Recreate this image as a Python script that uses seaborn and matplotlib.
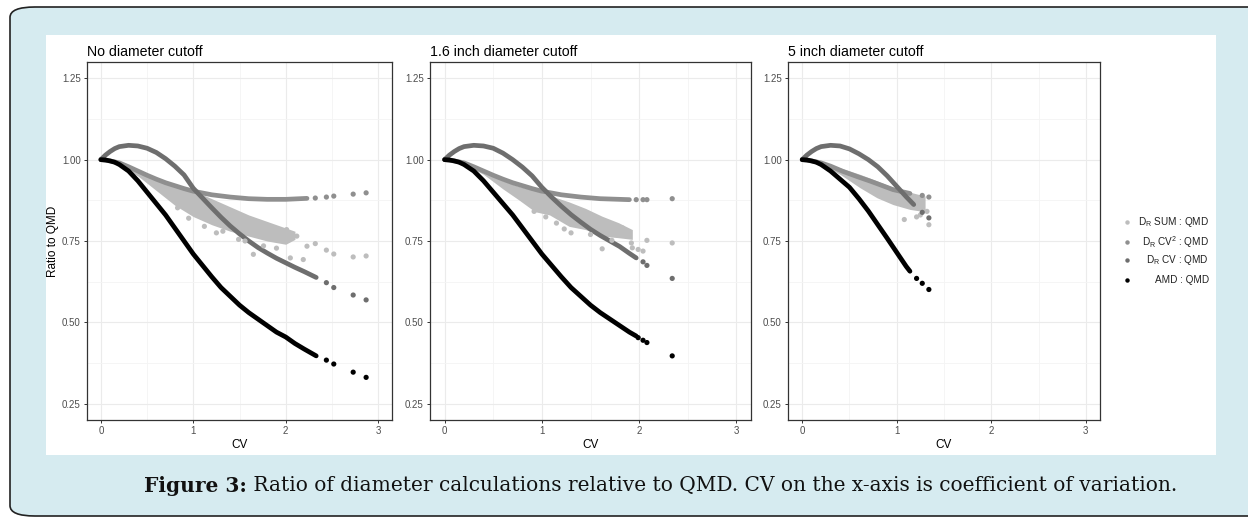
import numpy as np
import pandas as pd
import seaborn as sns
import matplotlib.pyplot as plt
from matplotlib.patches import FancyBboxPatch, Rectangle
from matplotlib.lines import Line2D

# ---- data ----
titles = ['No diameter cutoff', '1.6 inch diameter cutoff', '5 inch diameter cutoff']

# panel 1: no cutoff
p1_amd_cv = [0, 0.05, 0.1, 0.15, 0.2, 0.3, 0.4, 0.5, 0.6, 0.7, 0.8, 0.9, 1.0, 1.1, 1.2, 1.3, 1.4, 1.5, 1.6, 1.7, 1.8, 1.9, 2.0, 2.1, 2.2, 2.33]
p1_amd = [1.0, 0.999, 0.996, 0.992, 0.985, 0.965, 0.935, 0.9, 0.865, 0.83, 0.79, 0.75, 0.71, 0.675, 0.64, 0.607, 0.58, 0.553,
          0.53, 0.51, 0.49, 0.47, 0.455, 0.435, 0.418, 0.397]
p1_amd_tail_cv = [2.44, 2.52, 2.73, 2.87]
p1_amd_tail = [0.384, 0.372, 0.347, 0.331]
p1_cv_cv = [0, 0.05, 0.1, 0.15, 0.2, 0.3, 0.4, 0.5, 0.6, 0.7, 0.8, 0.9, 1.0, 1.1, 1.2, 1.3, 1.4, 1.5, 1.6, 1.7, 1.8, 1.9, 2.0, 2.1, 2.2, 2.33]
p1_cv = [1.0, 1.014, 1.025, 1.034, 1.04, 1.044, 1.042, 1.035, 1.022, 1.003, 0.98, 0.953, 0.912, 0.882, 0.852, 0.823, 0.796,
         0.772, 0.75, 0.73, 0.713, 0.697, 0.683, 0.669, 0.656, 0.638]
p1_cv_tail_cv = [2.44, 2.52, 2.73, 2.87]
p1_cv_tail = [0.622, 0.607, 0.584, 0.569]
p1_cv2_cv = [0, 0.1, 0.2, 0.3, 0.4, 0.5, 0.6, 0.7, 0.8, 0.9, 1.0, 1.2, 1.4, 1.6, 1.8, 2.0, 2.23]
p1_cv2 = [1.0, 0.996, 0.99, 0.978, 0.965, 0.952, 0.94, 0.929, 0.92, 0.911, 0.903, 0.892, 0.885, 0.88, 0.878, 0.878, 0.881]
p1_cv2_tail_cv = [2.32, 2.44, 2.52, 2.73, 2.87]
p1_cv2_tail = [0.882, 0.885, 0.888, 0.894, 0.898]
p1_sum_cv = [0, 0.2, 0.4, 0.6, 0.8, 1.0, 1.2, 1.4, 1.6, 1.8, 2.0, 2.1]
p1_sum_hi = [1.0, 0.99, 0.97, 0.945, 0.925, 0.905, 0.88, 0.855, 0.83, 0.81, 0.79, 0.78]
p1_sum_lo = [1.0, 0.982, 0.95, 0.905, 0.86, 0.825, 0.8, 0.78, 0.765, 0.75, 0.74, 0.755]
p1_sum_pts_cv = [0.83, 0.95, 1.12, 1.25, 1.32, 1.49, 1.56, 1.65, 1.76, 1.9, 2.01, 2.05, 2.12, 2.19, 2.23, 2.32, 2.44, 2.52, 2.73, 2.87]
p1_sum_pts = [0.852, 0.82, 0.795, 0.775, 0.78, 0.755, 0.75, 0.709, 0.735, 0.728, 0.785, 0.698, 0.765, 0.693, 0.734, 0.742,
              0.722, 0.71, 0.701, 0.704]

# panel 2: 1.6 inch cutoff
p2_amd_cv = [0, 0.05, 0.1, 0.15, 0.2, 0.3, 0.4, 0.5, 0.6, 0.7, 0.8, 0.9, 1.0, 1.1, 1.2, 1.3, 1.4, 1.5, 1.6, 1.7, 1.8, 1.9, 1.97]
p2_amd = [1.0, 0.999, 0.996, 0.992, 0.985, 0.965, 0.935, 0.9, 0.865, 0.83, 0.79, 0.75, 0.71, 0.675, 0.64, 0.607, 0.58, 0.553,
          0.53, 0.51, 0.49, 0.47, 0.458]
p2_amd_tail_cv = [1.99, 2.04, 2.08, 2.34]
p2_amd_tail = [0.453, 0.445, 0.438, 0.397]
p2_cv_cv = [0, 0.05, 0.1, 0.15, 0.2, 0.3, 0.4, 0.5, 0.6, 0.7, 0.8, 0.9, 1.0, 1.1, 1.2, 1.3, 1.4, 1.5, 1.6, 1.7, 1.8, 1.9, 1.97]
p2_cv = [1.0, 1.014, 1.025, 1.034, 1.04, 1.044, 1.042, 1.035, 1.02, 1.0, 0.977, 0.95, 0.915, 0.885, 0.857, 0.831, 0.808,
         0.786, 0.767, 0.75, 0.733, 0.712, 0.698]
p2_cv_tail_cv = [2.04, 2.08, 2.34]
p2_cv_tail = [0.686, 0.675, 0.635]
p2_cv2_cv = [0, 0.1, 0.2, 0.3, 0.4, 0.5, 0.6, 0.7, 0.8, 0.9, 1.0, 1.2, 1.4, 1.6, 1.8, 1.9]
p2_cv2 = [1.0, 0.996, 0.99, 0.978, 0.965, 0.952, 0.94, 0.929, 0.92, 0.911, 0.903, 0.892, 0.885, 0.88, 0.878, 0.877]
p2_cv2_tail_cv = [1.97, 2.04, 2.08, 2.34]
p2_cv2_tail = [0.877, 0.877, 0.877, 0.88]
p2_sum_cv = [0, 0.2, 0.4, 0.6, 0.76, 0.93, 1.08, 1.28, 1.45, 1.62, 1.79, 1.93]
p2_sum_hi = [1.0, 0.99, 0.965, 0.935, 0.918, 0.905, 0.89, 0.87, 0.85, 0.826, 0.806, 0.785]
p2_sum_lo = [1.0, 0.985, 0.955, 0.91, 0.877, 0.84, 0.83, 0.795, 0.785, 0.765, 0.76, 0.755]
p2_sum_pts_cv = [0.92, 1.04, 1.15, 1.23, 1.3, 1.5, 1.62, 1.72, 1.83, 1.92, 1.93, 1.99, 2.04, 2.08, 2.34]
p2_sum_pts = [0.841, 0.824, 0.805, 0.787, 0.775, 0.77, 0.726, 0.752, 0.79, 0.744, 0.729, 0.724, 0.719, 0.752, 0.744]

# panel 3: 5 inch cutoff
p3_amd_cv = [0, 0.05, 0.1, 0.15, 0.2, 0.3, 0.4, 0.5, 0.6, 0.7, 0.8, 0.9, 1.0, 1.1, 1.14]
p3_amd = [1.0, 0.999, 0.996, 0.992, 0.985, 0.965, 0.94, 0.915, 0.88, 0.842, 0.8, 0.758, 0.715, 0.672, 0.657]
p3_amd_tail_cv = [1.21, 1.27, 1.34]
p3_amd_tail = [0.635, 0.62, 0.601]
p3_cv_cv = [0, 0.05, 0.1, 0.15, 0.2, 0.3, 0.4, 0.5, 0.6, 0.7, 0.8, 0.9, 1.0, 1.1, 1.18]
p3_cv = [1.0, 1.014, 1.025, 1.034, 1.04, 1.044, 1.042, 1.033, 1.018, 1.0, 0.978, 0.95, 0.918, 0.886, 0.862]
p3_cv_tail_cv = [1.27, 1.34]
p3_cv_tail = [0.838, 0.821]
p3_cv2_cv = [0, 0.1, 0.2, 0.3, 0.43, 0.6, 0.72, 0.85, 0.96, 1.14]
p3_cv2 = [1.0, 0.996, 0.99, 0.98, 0.964, 0.946, 0.934, 0.92, 0.908, 0.896]
p3_cv2_tail_cv = [1.27, 1.34]
p3_cv2_tail = [0.89, 0.885]
p3_sum_cv = [0, 0.2, 0.4, 0.61, 0.79, 0.96, 1.14, 1.3]
p3_sum_hi = [1.0, 0.99, 0.975, 0.955, 0.935, 0.915, 0.9, 0.888]
p3_sum_lo = [1.0, 0.985, 0.955, 0.914, 0.883, 0.862, 0.847, 0.84]
p3_sum_pts_cv = [1.08, 1.21, 1.25, 1.32, 1.34]
p3_sum_pts = [0.816, 0.824, 0.83, 0.841, 0.8]

legend_labels = [r'D$_\mathregular{R}$ SUM : QMD', r'D$_\mathregular{R}$ CV$^\mathregular{2}$ : QMD',
                 r'D$_\mathregular{R}$ CV : QMD', 'AMD : QMD']
c_sum, c_cv2, c_cv, c_amd = '#bdbdbd', '#8f8f8f', '#6e6e6e', '#000000'

panels = [
    dict(amd=(p1_amd_cv, p1_amd), amd_t=(p1_amd_tail_cv, p1_amd_tail), cv=(p1_cv_cv, p1_cv), cv_t=(p1_cv_tail_cv, p1_cv_tail),
         cv2=(p1_cv2_cv, p1_cv2), cv2_t=(p1_cv2_tail_cv, p1_cv2_tail), band=(p1_sum_cv, p1_sum_lo, p1_sum_hi), sum_t=(p1_sum_pts_cv, p1_sum_pts)),
    dict(amd=(p2_amd_cv, p2_amd), amd_t=(p2_amd_tail_cv, p2_amd_tail), cv=(p2_cv_cv, p2_cv), cv_t=(p2_cv_tail_cv, p2_cv_tail),
         cv2=(p2_cv2_cv, p2_cv2), cv2_t=(p2_cv2_tail_cv, p2_cv2_tail), band=(p2_sum_cv, p2_sum_lo, p2_sum_hi), sum_t=(p2_sum_pts_cv, p2_sum_pts)),
    dict(amd=(p3_amd_cv, p3_amd), amd_t=(p3_amd_tail_cv, p3_amd_tail), cv=(p3_cv_cv, p3_cv), cv_t=(p3_cv_tail_cv, p3_cv_tail),
         cv2=(p3_cv2_cv, p3_cv2), cv2_t=(p3_cv2_tail_cv, p3_cv2_tail), band=(p3_sum_cv, p3_sum_lo, p3_sum_hi), sum_t=(p3_sum_pts_cv, p3_sum_pts)),
]

sns.set_style('white')
plt.rcParams['font.family'] = ['Liberation Sans', 'DejaVu Sans']
plt.rcParams['mathtext.fontset'] = 'custom'
plt.rcParams['mathtext.rm'] = 'Liberation Sans'
plt.rcParams['mathtext.it'] = 'Liberation Sans'

W, H = 1248, 519
fig = plt.figure(figsize=(W / 100, H / 100), dpi=100, facecolor='white')

# page background: rounded light-blue box with white plot area (behind the axes)
fig.patches.append(FancyBboxPatch((10 / W, 1 - 516 / H), 1.02, 509 / H, boxstyle='round,pad=0,rounding_size=0.02',
                                  transform=fig.transFigure, facecolor='#d6ebf0', edgecolor='#222222', lw=1.2,
                                  zorder=-3))
fig.patches.append(Rectangle((46 / W, 1 - 455 / H), 1170 / W, 420 / H, transform=fig.transFigure,
                             facecolor='white', edgecolor='none', zorder=-2))

frames = [(87, 392), (430, 751), (788, 1100)]
top, bottom = 62, 420


def line(ax, xy, color):
    d = pd.DataFrame({'cv': xy[0], 'r': xy[1]})
    sns.lineplot(data=d, x='cv', y='r', color=color, lw=3.4, ax=ax, sort=False, solid_capstyle='round',
                 solid_joinstyle='round')


def dots(ax, xy, color):
    d = pd.DataFrame({'cv': xy[0], 'r': xy[1]})
    sns.scatterplot(data=d, x='cv', y='r', color=color, s=14, edgecolor='none', ax=ax, zorder=3)


for i, (p, (x0, x1)) in enumerate(zip(panels, frames)):
    ax = fig.add_axes([x0 / W, 1 - bottom / H, (x1 - x0) / W, (bottom - top) / H])
    ax.set_facecolor('white')
    ax.set_xlim(-0.15, 3.15)
    ax.set_ylim(0.2, 1.3)
    ax.set_xticks([0, 1, 2, 3])
    ax.set_xticks([0.5, 1.5, 2.5], minor=True)
    ax.set_yticks([0.25, 0.5, 0.75, 1.0, 1.25])
    ax.set_yticks([0.375, 0.625, 0.875, 1.125], minor=True)
    ax.set_yticklabels(['0.25', '0.50', '0.75', '1.00', '1.25'])
    ax.grid(which='major', color='#ebebeb', lw=0.8)
    ax.grid(which='minor', color='#f4f4f4', lw=0.6)
    ax.set_axisbelow(True)
    for s in ax.spines.values():
        s.set_color('#333333')
        s.set_linewidth(0.9)
    ax.tick_params(which='major', length=2.5, width=0.7, color='#333333', labelsize=7,
                   labelcolor='#4d4d4d', pad=2, left=True, bottom=True)
    ax.tick_params(which='minor', length=0)

    cvs, lo, hi = p['band']
    ax.fill_between(cvs, lo, hi, color=c_sum, lw=0, zorder=2)
    dots(ax, p['sum_t'], c_sum)
    line(ax, p['cv2'], c_cv2)
    dots(ax, p['cv2_t'], c_cv2)
    line(ax, p['cv'], c_cv)
    dots(ax, p['cv_t'], c_cv)
    line(ax, p['amd'], c_amd)
    dots(ax, p['amd_t'], c_amd)

    ax.set_xlabel('CV', fontsize=8.5, color='black', labelpad=2)
    ax.set_ylabel('Ratio to QMD' if i == 0 else '', fontsize=8.5, color='black', labelpad=2)
    ax.set_title(titles[i], loc='left', fontsize=10.2, color='black', pad=4)

# legend (right-aligned labels as in the source)
leg_y = [222, 242, 260, 280]
for lab, col, y in zip(legend_labels, [c_sum, c_cv2, c_cv, c_amd], leg_y):
    fig.add_artist(Line2D([1127 / W], [1 - y / H], marker='o', ms=3.2, color=col, mec='none', ls='none',
                          transform=fig.transFigure))
    fig.text(1209 / W, 1 - y / H, lab, ha='right', va='center', fontsize=7.2, color='#222222')

# caption
r = fig.canvas.get_renderer()
cap_y = 1 - 486 / H
t1 = fig.text(0, cap_y, 'Figure 3:', fontsize=14.5, weight='bold', family='DejaVu Serif', va='center', color='#111111')
t2 = fig.text(0, cap_y, ' Ratio of diameter calculations relative to QMD. CV on the x-axis is coefficient of variation.',
              fontsize=14.5, family='DejaVu Serif', va='center', color='#111111')
w1 = t1.get_window_extent(r).width
w2 = t2.get_window_extent(r).width
start = 661 - (w1 + w2) / 2
t1.set_x(start / W)
t2.set_x((start + w1) / W)

fig.savefig('out.png', dpi=100, facecolor=fig.get_facecolor())
